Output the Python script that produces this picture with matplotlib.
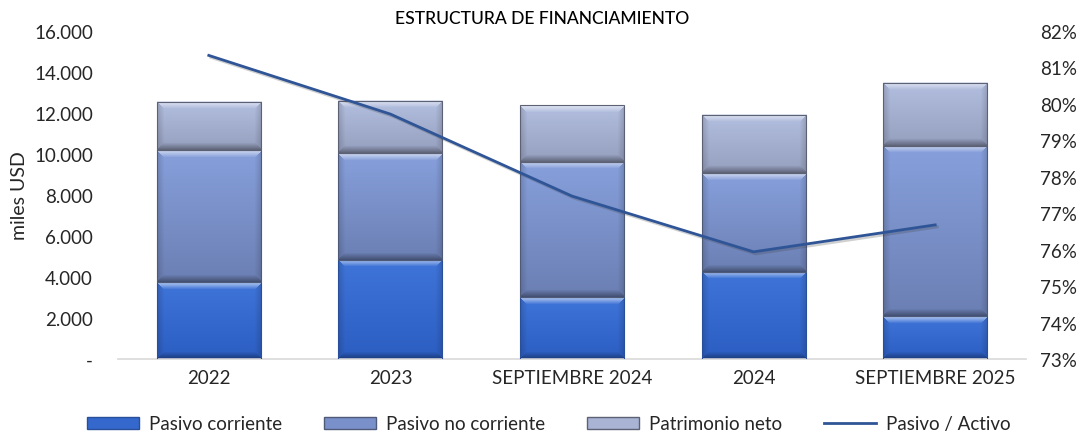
import numpy as np
import matplotlib
matplotlib.use("Agg")
import matplotlib.pyplot as plt
from matplotlib.patches import Patch
from matplotlib.lines import Line2D
from matplotlib.ticker import FuncFormatter
import matplotlib.patheffects as pe
from matplotlib.colors import to_rgb

categories = ["2022", "2023", "SEPTIEMBRE 2024", "2024", "SEPTIEMBRE 2025"]
pasivo_corriente = [3756, 4844, 3024, 4259, 2083]
pasivo_no_corriente = [6439, 5205, 6601, 4814, 8293]
patrimonio_neto = [2356, 2551, 2780, 2844, 3087]
pasivo_activo = [0.8133, 0.7972, 0.7747, 0.7594, 0.7668]
left_ticks = [0, 2000, 4000, 6000, 8000, 10000, 12000, 14000, 16000]
right_ticks = [0.73, 0.74, 0.75, 0.76, 0.77, 0.78, 0.79, 0.80, 0.81, 0.82]

FONT = "Lato"
TXT = "#262626"
FS = 13.5
plt.rcParams["font.family"] = [FONT, "DejaVu Sans"]

W, H = 1084, 435
fig = plt.figure(figsize=(W / 100, H / 100), dpi=100)
ax = fig.add_axes([118 / W, 75 / H, 908 / W, 328 / H])
ax2 = ax.twinx()

x = np.arange(len(categories))
width = 0.573

styles = {
    "corr": (("#3f74d8", "#2c5ec2"), "#2a4f9a"),
    "nocorr": (("#87a0dc", "#6b7fb3"), "#4f5a78"),
    "pat": (("#b3bfe0", "#959fbe"), "#5c6274"),
}

ax.set_xlim(-0.5, len(categories) - 0.5)
ax.set_ylim(0, 16000)

bottoms = np.zeros(len(categories))
series = [("corr", pasivo_corriente, "Pasivo corriente"),
          ("nocorr", pasivo_no_corriente, "Pasivo no corriente"),
          ("pat", patrimonio_neto, "Patrimonio neto")]
containers = []
for key, vals, lab in series:
    bc = ax.bar(x, vals, width, bottom=bottoms, facecolor="none",
                edgecolor=styles[key][1], linewidth=0.8, zorder=3, label=lab)
    containers.append((key, bc))
    bottoms = bottoms + np.array(vals)


def bevel_image(wp, hp, ctop, cbot, b=7):
    ctop = np.array(to_rgb(ctop))
    cbot = np.array(to_rgb(cbot))
    yy, xx = np.mgrid[0:hp, 0:wp]
    t = (yy / max(hp - 1, 1))[..., None]
    img = ctop * (1 - t) + cbot * t
    dt = yy
    db = hp - 1 - yy
    dl = xx
    dr = wp - 1 - xx
    dmin = np.minimum(np.minimum(dt, db), np.minimum(dl, dr))
    white = np.ones(3)
    black = np.zeros(3)
    out = img.copy()
    mt = (dt == dmin) & (dt < b)
    f = (1 - dt / b)[..., None] * 0.6
    out = np.where(mt[..., None], img * (1 - f) + white * f, out)
    for d in (dl, dr):
        m = (d == dmin) & (d < b) & ~mt
        f = (1 - d / b)[..., None] * 0.15
        out = np.where(m[..., None], img * (1 - f) + black * f, out)
    m = (db == dmin) & (db < b) & ~mt
    f = (1 - db / b)[..., None] * 0.35
    out = np.where(m[..., None], img * (1 - f) + black * f, out)
    return np.clip(out, 0, 1)


for key, bc in containers:
    (ctop, cbot), _ = styles[key]
    for rect in bc.patches:
        x0, y0 = rect.get_x(), rect.get_y()
        w, h = rect.get_width(), rect.get_height()
        p0 = ax.transData.transform((x0, y0))
        p1 = ax.transData.transform((x0 + w, y0 + h))
        wp = max(int(round(p1[0] - p0[0])), 2)
        hp = max(int(round(p1[1] - p0[1])), 2)
        img = bevel_image(wp, hp, ctop, cbot)
        ax.imshow(img, extent=(x0, x0 + w, y0, y0 + h), aspect="auto",
                  interpolation="bilinear", zorder=2)

ax.set_xlim(-0.5, len(categories) - 0.5)
ax.set_ylim(0, 16000)
ax.set_aspect("auto")

ax2.plot(x, pasivo_activo, color="#2f5597", linewidth=2.0, zorder=5,
         path_effects=[pe.SimpleLineShadow(offset=(1.5, -1.5), alpha=0.25, shadow_color="#444444"),
                       pe.Normal()])
ax2.set_ylim(0.73, 0.82)

for a in (ax, ax2):
    for s in a.spines.values():
        s.set_visible(False)
ax.spines["bottom"].set_visible(True)
ax.spines["bottom"].set_color("#d9d9d9")
ax.spines["bottom"].set_linewidth(1.2)

ax.set_yticks(left_ticks)
ax.yaxis.set_major_formatter(FuncFormatter(
    lambda v, p: "-" if v == 0 else f"{int(v):,}".replace(",", ".")))
ax.tick_params(axis="y", length=0, pad=18, labelsize=FS, labelcolor=TXT)
ax.set_xticks(x)
ax.set_xticklabels(categories)
ax.tick_params(axis="x", length=0, pad=7, labelsize=FS, labelcolor=TXT)

ax2.set_yticks(right_ticks)
ax2.yaxis.set_major_formatter(FuncFormatter(lambda v, p: f"{v * 100:.0f}%"))
ax2.tick_params(axis="y", length=0, pad=10, labelsize=FS, labelcolor=TXT)

ax.set_ylabel("miles USD", fontsize=14, color=TXT)
ax.yaxis.set_label_coords(-90 / 908, 0.5)

fig.text(542 / W, 1 - 19 / H, "ESTRUCTURA DE FINANCIAMIENTO", ha="center", va="center",
         fontsize=12.6, color="#000000", fontweight="medium")

handles = [Patch(facecolor="#3468cc", edgecolor="#2a4f9a"),
           Patch(facecolor="#7a90cb", edgecolor="#4f5a78"),
           Patch(facecolor="#a9b4d4", edgecolor="#5c6274"),
           Line2D([0], [0], color="#2f5597", linewidth=2.0)]
labels = ["Pasivo corriente", "Pasivo no corriente", "Patrimonio neto", "Pasivo / Activo"]
fig.legend(handles, labels, loc="center", bbox_to_anchor=(549 / W, 1 - 425 / H), ncol=4,
           frameon=False, fontsize=FS, handlelength=2.77, handleheight=0.64,
           handletextpad=0.53, columnspacing=2.24, labelcolor=TXT)

fig.savefig("out.png", dpi=100)
